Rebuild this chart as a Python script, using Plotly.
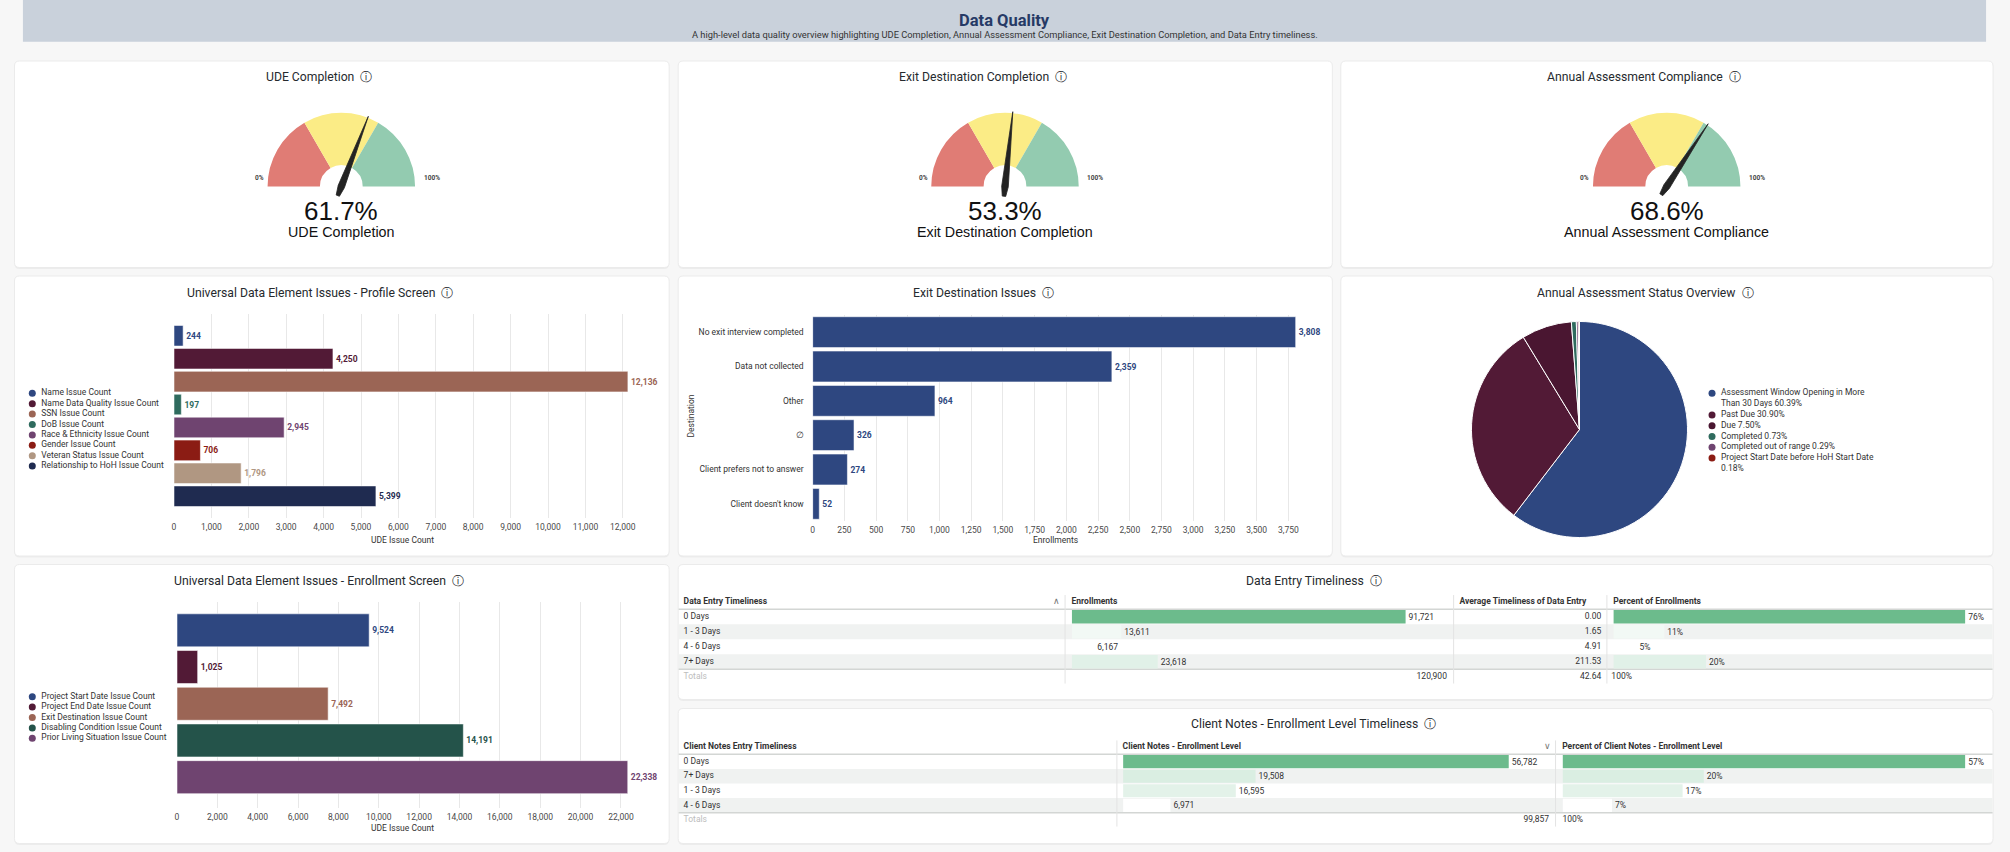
import plotly.graph_objects as go

# ---------------- data ----------------
gauge_titles = ["UDE Completion", "Exit Destination Completion", "Annual Assessment Compliance"]
gauge_values = [61.7, 53.3, 68.6]
gauge_steps = [0, 33.33, 66.67, 100]

profile_labels = ["Name Issue Count", "Name Data Quality Issue Count", "SSN Issue Count",
                  "DoB Issue Count", "Race & Ethnicity Issue Count", "Gender Issue Count",
                  "Veteran Status Issue Count", "Relationship to HoH Issue Count"]
profile_values = [244, 4250, 12136, 197, 2945, 706, 1796, 5399]

exit_labels = ["No exit interview completed", "Data not collected", "Other", "\u2205",
               "Client prefers not to answer", "Client doesn't know"]
exit_values = [3808, 2359, 964, 326, 274, 52]

status_labels = ["Assessment Window Opening in More Than 30 Days", "Past Due", "Due",
                 "Completed", "Completed out of range", "Project Start Date before HoH Start Date"]
status_pct = [60.39, 30.90, 7.50, 0.73, 0.29, 0.18]

enroll_labels = ["Project Start Date Issue Count", "Project End Date Issue Count",
                 "Exit Destination Issue Count", "Disabling Condition Issue Count",
                 "Prior Living Situation Issue Count"]
enroll_values = [9524, 1025, 7492, 14191, 22338]

entry_rows = ["0 Days", "1 - 3 Days", "4 - 6 Days", "7+ Days"]
entry_enrollments = [91721, 13611, 6167, 23618]
entry_avg_days = [0.00, 1.65, 4.91, 211.53]
entry_pct = [76, 11, 5, 20]
entry_total_enrollments = 120900
entry_total_avg = 42.64
entry_total_pct = 100

notes_rows = ["0 Days", "7+ Days", "1 - 3 Days", "4 - 6 Days"]
notes_counts = [56782, 19508, 16595, 6971]
notes_pct = [57, 20, 17, 7]
notes_total = 99857
notes_total_pct = 100

# ---------------- style ----------------
W, H = 2010, 852
FONT = "Roboto, 'Noto Sans', sans-serif"
ARIAL = "'Liberation Sans', Arial, sans-serif"
INK = "#333333"
GRID = "#e8e8e8"
BLUE = "#2e4780"
profile_colors = [BLUE, "#521a36", "#9b6555", "#2f6b5e", "#6f4470", "#8b1c14", "#b09782", "#1f2b50"]
enroll_colors = [BLUE, "#521a36", "#9b6555", "#24534a", "#6f4470"]
status_colors = [BLUE, "#521a36", "#4a1631", "#2f6b5e", "#6f4470", "#8b1c14"]
band_colors = ["#e07c75", "#fbec86", "#93cbb0"]
GREEN = (108, 187, 140)
HIDDEN = dict(visible=False, fixedrange=True)


def fx(p):
    return p / W


def fy(p):
    return 1 - p / H


def span_x(a, b):
    return [fx(a), fx(b)]


def span_y(top, bottom):
    return [fy(bottom), fy(top)]


def text_em(s):
    w = 0
    for ch in s:
        if ch in "iljtfr.,' ":
            w += 0.27
        elif ch in "mwMW":
            w += 0.85
        elif ch.isupper():
            w += 0.65
        else:
            w += 0.55
    return w


def wrap(s, max_em):
    lines, cur = [], ""
    for word in s.split():
        trial = (cur + " " + word).strip()
        if cur and text_em(trial) > max_em:
            lines.append(cur)
            cur = word
        else:
            cur = trial
    lines.append(cur)
    return lines


def shade(vals):
    lo, hi = min(vals), max(vals)
    out = []
    for v in vals:
        t = (v - lo) / (hi - lo)
        r, g, b = (round(255 - t * (255 - c)) for c in GREEN)
        out.append(f"rgb({r},{g},{b})")
    return out


def rounded(x0, y0, x1, y1, r=5):
    X, Y = fx, fy
    return (f"M {X(x0 + r)},{Y(y0)} L {X(x1 - r)},{Y(y0)} Q {X(x1)},{Y(y0)} {X(x1)},{Y(y0 + r)} "
            f"L {X(x1)},{Y(y1 - r)} Q {X(x1)},{Y(y1)} {X(x1 - r)},{Y(y1)} L {X(x0 + r)},{Y(y1)} "
            f"Q {X(x0)},{Y(y1)} {X(x0)},{Y(y1 - r)} L {X(x0)},{Y(y0 + r)} Q {X(x0)},{Y(y0)} {X(x0 + r)},{Y(y0)} Z")


fig = go.Figure()
lay = {}
shapes = []
notes = []


def label(s, x, y, size=9, color=INK, anchor="center", family=FONT, **kw):
    notes.append(dict(text=s, x=fx(x), y=fy(y), xref="paper", yref="paper", xanchor=anchor,
                      yanchor="middle", showarrow=False,
                      font=dict(size=size, color=color, family=family), **kw))


def card(x0, y0, x1, y1):
    shapes.append(dict(type="path", path=rounded(x0, y0 + 1.5, x1, y1 + 1.5), xref="paper", yref="paper",
                       fillcolor="rgba(0,0,0,0.045)", line=dict(width=0), layer="below"))
    shapes.append(dict(type="path", path=rounded(x0, y0, x1, y1), xref="paper", yref="paper",
                       fillcolor="white", line=dict(color="#ebebeb", width=1), layer="below"))


# ---------------- page frame ----------------
shapes.append(dict(type="rect", xref="paper", yref="paper", x0=fx(21), x1=fx(1991), y0=fy(41.7), y1=fy(0),
                   fillcolor="#c9d1db", line=dict(width=0), layer="below"))
label("<b>Data Quality</b>", 1006, 20, size=16.5, color="#263a66")
label("A high-level data quality overview highlighting UDE Completion, Annual Assessment Compliance, "
      "Exit Destination Completion, and Data Entry timeliness.", 1006.5, 35, size=9.3)

cards = [(12.5, 61, 669.5, 267.5), (678.5, 61, 1335, 267.5), (1343.5, 61, 1998, 267.5),
         (12.5, 276, 669.5, 556), (678.5, 276, 1335, 556), (1343.5, 276, 1998, 556),
         (12.5, 564.5, 669.5, 843.5), (678.5, 564.5, 1998, 699.5), (678.5, 708.5, 1998, 843.5)]
for c in cards:
    card(*c)

titles = [(gauge_titles[0], 318.5, 77), (gauge_titles[1], 984, 77), (gauge_titles[2], 1648, 77),
          ("Universal Data Element Issues - Profile Screen", 319, 292.7),
          ("Exit Destination Issues", 984.5, 292.7),
          ("Annual Assessment Status Overview", 1649.5, 292.7),
          ("Universal Data Element Issues - Enrollment Screen", 318.5, 580.7),
          ("Data Entry Timeliness", 1317, 580.7),
          ("Client Notes - Enrollment Level Timeliness", 1316.5, 724)]
for t, x, y in titles:
    label(t + "  \u24d8", x, y, size=12.2, color="#262a2e")

# ---------------- gauges ----------------
gauge_cx = [340.5, 1006.5, 1670.5]
GY, GR, HOLE = 186.5, 74, 0.29
for i, (cx, val, name) in enumerate(zip(gauge_cx, gauge_values, gauge_titles)):
    pname = "polar" if i == 0 else f"polar{i + 1}"
    lo, hi = gauge_steps[:-1], gauge_steps[1:]
    fig.add_trace(go.Barpolar(
        r=[1 - HOLE] * len(lo), base=HOLE,
        theta=[(a + b) / 2 * 1.8 for a, b in zip(lo, hi)],
        width=[(b - a) * 1.8 for a, b in zip(lo, hi)],
        marker=dict(color=band_colors, line=dict(width=0)),
        subplot=pname, hoverinfo="skip"))
    t = val * 1.8
    fig.add_trace(go.Scatterpolar(
        r=[1.02, 0.045, 0.135, 0.135, 0.045, 1.02],
        theta=[t, t + 90, t + 170, t + 190, t - 90, t],
        mode="lines", fill="toself", fillcolor="#232323",
        line=dict(color="#232323", width=0.8), subplot=pname, hoverinfo="skip"))
    half = GR * 1.04
    lay[pname] = dict(domain=dict(x=span_x(cx - half, cx + half), y=span_y(GY - half, GY + half)),
                      bgcolor="rgba(0,0,0,0)",
                      angularaxis=dict(visible=False, rotation=180, direction="clockwise"),
                      radialaxis=dict(visible=False, range=[0, 1.04]))
    label("<b>0%</b>", cx - GR - 1.5, 178.3, size=6.5, color="#444", anchor="right")
    label("<b>100%</b>", cx + GR + 6.5, 178.3, size=6.5, color="#444", anchor="left")
    label(f"{val:.1f}%", cx, 210.7, size=26, color="#111", family=ARIAL)
    label(name, cx, 232.3, size=14.3, color="#111", family=ARIAL)


# ---------------- bar charts ----------------
def value_axis(dom, xmax, dtick, ya):
    return dict(domain=span_x(*dom), range=[0, xmax], dtick=dtick, tickformat=",d", anchor=ya,
                showgrid=True, gridcolor=GRID, gridwidth=1, zeroline=False, showline=False, ticks="",
                ticklabelstandoff=2, tickfont=dict(size=8.5, color="#4a4a4a", family=FONT),
                fixedrange=True)


def hbar(values, labels, colors, xa, ya):
    fig.add_trace(go.Bar(
        x=values, y=labels, orientation="h", xaxis=xa, yaxis=ya,
        marker=dict(color=colors, line=dict(color="rgba(255,255,255,0.55)", width=1)),
        texttemplate="<b>%{x:,}</b>", textposition="outside", constraintext="none",
        textfont=dict(size=8.5, color=colors, family=FONT), cliponaxis=False, hoverinfo="skip"))


# profile screen
lay["xaxis"] = value_axis((172.6, 630.5), 12200, 1000, "y")
lay["yaxis"] = dict(domain=span_y(314, 518), range=[7.95, -0.95], anchor="x", type="category",
                    showticklabels=False, showgrid=False, zeroline=False, fixedrange=True)
hbar(profile_values, profile_labels, profile_colors, "x", "y")
label("UDE Issue Count", (172.6 + 630.5) / 2, 540, size=8.5)

# exit destination
lay["xaxis3"] = value_axis((813.5, 1301), 3830, 250, "y3")
lay["yaxis3"] = dict(domain=span_y(315, 521), range=[5.5, -0.5], anchor="x3", type="category",
                     showgrid=False, zeroline=False, ticks="", ticklabelstandoff=8,
                     tickfont=dict(size=8.5, color=INK, family=FONT), fixedrange=True)
hbar(exit_values, exit_labels, [BLUE] * len(exit_values), "x3", "y3")
label("Enrollments", (813.5 + 1301) / 2, 540, size=8.5)
label("Destination", 691, 416, size=8.5, textangle=-90)

# enrollment screen
lay["xaxis5"] = value_axis((175.6, 629.2), 22400, 2000, "y5")
lay["yaxis5"] = dict(domain=span_y(601.7, 808), range=[4.84, -0.78], anchor="x5", type="category",
                     showticklabels=False, showgrid=False, zeroline=False, fixedrange=True)
hbar(enroll_values, enroll_labels, enroll_colors, "x5", "y5")
label("UDE Issue Count", (175.6 + 629.2) / 2, 828.3, size=8.5)

# ---------------- pie ----------------
fig.add_trace(go.Pie(
    labels=status_labels, values=status_pct, sort=False, direction="clockwise", rotation=0,
    marker=dict(colors=status_colors, line=dict(color="white", width=1)), textinfo="none",
    domain=dict(x=span_x(1474.6, 1691.4), y=span_y(321, 538)), hoverinfo="skip"))


# ---------------- legends (drawn on their own hidden axes) ----------------
def legend(n, names, colors, x_dot, first_line, spacing, max_em=None):
    lines, marks = [], []
    for name, col in zip(names, colors):
        parts = wrap(name, max_em) if max_em else [name]
        marks.append((len(lines), col))
        lines.extend(parts)
    count = len(lines)
    lay[f"xaxis{n}"] = dict(HIDDEN, domain=span_x(x_dot, x_dot + 220), range=[0, 220], anchor=f"y{n}")
    lay[f"yaxis{n}"] = dict(HIDDEN, domain=span_y(first_line - spacing / 2, first_line + (count - 0.5) * spacing),
                            range=[count - 0.5, -0.5], anchor=f"x{n}")
    fig.add_trace(go.Scatter(x=[0] * len(marks), y=[m[0] for m in marks], mode="markers",
                             marker=dict(size=7, color=[m[1] for m in marks], line=dict(width=0)),
                             xaxis=f"x{n}", yaxis=f"y{n}", hoverinfo="skip", cliponaxis=False))
    fig.add_trace(go.Scatter(x=[9] * count, y=list(range(count)), mode="text", text=lines,
                             textposition="middle right", textfont=dict(size=8.5, color=INK, family=FONT),
                             xaxis=f"x{n}", yaxis=f"y{n}", hoverinfo="skip", cliponaxis=False))


legend(2, profile_labels, profile_colors, 30.4, 393.3, 10.4)
legend(6, enroll_labels, enroll_colors, 30.4, 696.7, 10.4)
legend(4, [f"{l} {p:.2f}%" for l, p in zip(status_labels, status_pct)], status_colors,
       1716, 393.3, 10.8, max_em=18.5)


# ---------------- tables ----------------
def table(n, card_x, header_y, pitch, heads, sort_icon, rows, bars, nums, totals, seps):
    xa, ya = f"x{n}", f"y{n}"
    x0, x1 = card_x
    nrow = len(rows)
    lay[f"xaxis{n}"] = dict(HIDDEN, domain=span_x(x0, x1), range=[x0, x1], anchor=ya)
    lay[f"yaxis{n}"] = dict(HIDDEN, domain=span_y(header_y - pitch / 2, header_y + (nrow + 1.5) * pitch),
                            range=[nrow + 0.5, -1.5], anchor=xa)
    for i in range(1, nrow, 2):
        shapes.append(dict(type="rect", xref="paper", yref=ya, x0=fx(x0 + 0.5), x1=fx(x1 - 0.5),
                           y0=i - 0.5, y1=i + 0.5, fillcolor="#f0f2f1", line=dict(width=0), layer="below"))
    for yy in (-0.5, nrow - 0.5):
        shapes.append(dict(type="line", xref="paper", yref=ya, x0=fx(x0 + 0.5), x1=fx(x1 - 0.5), y0=yy, y1=yy,
                           line=dict(color="#d3d6d4", width=1.5), layer="below"))
    for sx in seps:
        shapes.append(dict(type="line", xref="paper", yref=ya, x0=fx(sx), x1=fx(sx), y0=-1.45, y1=nrow + 0.45,
                           line=dict(color="#e3e3e3", width=1), layer="below"))

    xs, ys, ts, pos, cols = [], [], [], [], []

    def cell(x, y, s, align="left", color=INK):
        xs.append(x)
        ys.append(y)
        ts.append(s)
        pos.append({"left": "middle right", "right": "middle left", "center": "middle center"}[align])
        cols.append(color)

    for s, hx in heads:
        cell(hx, -1, f"<b>{s}</b>")
    cell(sort_icon[0], -1, sort_icon[1], "center", "#777")
    for i, r in enumerate(rows):
        cell(684, i, r)
    for vals, nx, fmt in nums:
        for i, v in enumerate(vals):
            cell(nx, i, fmt.format(v), "right")
    for s, tx, align, color in totals:
        cell(tx, nrow, s, align, color)
    fig.add_trace(go.Scatter(x=xs, y=ys, text=ts, mode="text", textposition=pos,
                             textfont=dict(size=8.5, color=cols, family=FONT),
                             xaxis=xa, yaxis=ya, hoverinfo="skip", cliponaxis=False))

    fills = shade(bars[0][0])
    for k, (vals, bx0, bx1, bar_px, fmt) in enumerate(bars):
        an = n + 1 + k
        lay[f"xaxis{an}"] = dict(HIDDEN, domain=span_x(bx0, bx1), range=[0, max(vals) * (bx1 - bx0) / bar_px],
                                 anchor=ya)
        fig.add_trace(go.Bar(x=vals, y=list(range(nrow)), orientation="h", xaxis=f"x{an}", yaxis=ya,
                             marker=dict(color=fills, line=dict(width=0)), texttemplate=fmt,
                             textposition="outside", constraintext="none",
                             textfont=dict(size=8.5, color=INK, family=FONT), cliponaxis=False,
                             hoverinfo="skip"))


table(7, (678.5, 1998), 601.8, 15,
      [("Data Entry Timeliness", 684), ("Enrollments", 1073.3),
       ("Average Timeliness of Data Entry", 1462.6), ("Percent of Enrollments", 1617)],
      (1058, "\u2227"), entry_rows,
      [(entry_enrollments, 1073.5, 1450, 335, "%{x:,}"), (entry_pct, 1617, 1992, 353, "%{x}%")],
      [(entry_avg_days, 1605, "{:.2f}")],
      [("Totals", 684, "left", "#bdbdbd"), (f"{entry_total_enrollments:,}", 1450, "right", INK),
       (f"{entry_total_avg:.2f}", 1605, "right", INK), (f"{entry_total_pct}%", 1615, "left", INK)],
      [1066.8, 1456.7, 1610.5])

table(10, (678.5, 1998), 747.0, 14.6,
      [("Client Notes Entry Timeliness", 684), ("Client Notes - Enrollment Level", 1124.5),
       ("Percent of Client Notes - Enrollment Level", 1565.6)],
      (1550.7, "\u2228"), notes_rows,
      [(notes_counts, 1125, 1545, 387, "%{x:,}"), (notes_pct, 1566, 1992, 404, "%{x}%")],
      [],
      [("Totals", 684, "left", "#bdbdbd"), (f"{notes_total:,}", 1552.5, "right", INK),
       (f"{notes_total_pct}%", 1566, "left", INK)],
      [1118.8, 1559])

fig.update_layout(width=W, height=H, margin=dict(l=0, r=0, t=0, b=0), paper_bgcolor="#f7f7f7",
                  plot_bgcolor="rgba(0,0,0,0)", showlegend=False, barmode="overlay", bargap=0.1,
                  hovermode=False, font=dict(family=FONT, color=INK), shapes=shapes, annotations=notes,
                  **lay)

fig.write_html("out.html", config={"displayModeBar": False},
               post_script="document.body.style.margin='0';")
